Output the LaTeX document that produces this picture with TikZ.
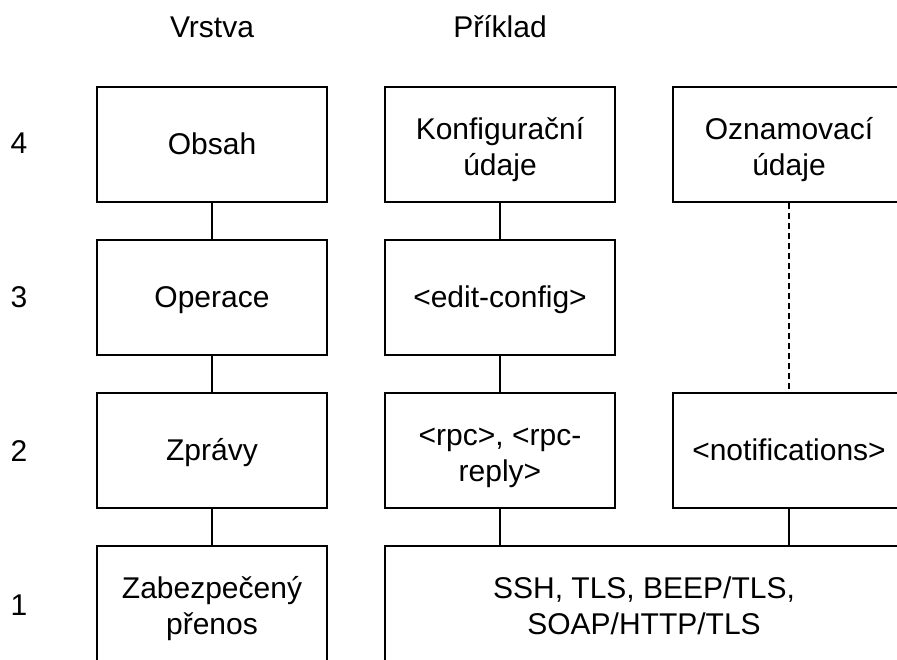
\documentclass[tikz,border=0pt]{standalone}
\usepackage{fontspec}
\setmainfont{Liberation Sans}
\begin{document}
\begin{tikzpicture}[x=0.5pt, y=-0.5pt,
  font=\fontsize{15}{18}\selectfont,
  layer/.style={draw, line width=1pt, minimum width=115pt, minimum height=57.5pt, align=center, inner sep=0pt, text height=12.5pt, text depth=2.5pt},
  twoline/.style={layer, text height=33pt, text depth=2.3pt},
  link/.style={line width=1pt},
  head/.style={anchor=base}]
  \useasboundingbox (0,0) rectangle (897,659);
  \clip (0,0) rectangle (897,659);

  % Layer numbers
  \begin{scope}[shift={(19,0)}]
    \node (n4) at (0,143.5) {4};
    \node (n3) at (0,297) {3};
    \node (n2) at (0,451) {2};
    \node (n1) at (0,605) {1};
  \end{scope}

  % Left column
  \begin{scope}[shift={(212,0)}]
    \node[head] (vrstva) at (0,37) {Vrstva};
    \node[layer] (obsah) at (0,144.5) {Obsah};
    \node[layer] (operace) at (0,297.5) {Operace};
    \node[layer] (zpravy) at (0,450.5) {Zprávy};
    \node[twoline] (prenos) at (0,603.5) {Zabezpečený\\přenos};
  \end{scope}

  % Middle column
  \begin{scope}[shift={(500,0)}]
    \node[head] (priklad) at (0,37) {Příklad};
    \node[twoline] (konfig) at (0,144.5) {Konfigurační\\údaje};
    \node[layer] (edit) at (0,297.5) {<edit-config>};
    \node[twoline] (rpc) at (0,450.5) {<rpc>, <rpc-\\reply>};
  \end{scope}

  % Right column
  \begin{scope}[shift={(789,0)}]
    \node[twoline, minimum width=116pt] (oznam) at (0,144.5) {Oznamovací\\údaje};
    \node[layer, minimum width=116pt] (notif) at (0,450.5) {<notifications>};
  \end{scope}

  % Transport
  \node[twoline, minimum width=259pt] (transport) at (644,603.5) {SSH, TLS, BEEP/TLS,\\SOAP/HTTP/TLS};

  \draw[link] (obsah) -- (operace);
  \draw[link] (operace) -- (zpravy);
  \draw[link] (zpravy) -- (prenos);
  \draw[link] (konfig) -- (edit);
  \draw[link] (edit) -- (rpc);
  \draw[link] (rpc) -- (rpc |- transport.north);
  \draw[link, dash pattern=on 3pt off 2pt] (oznam) -- (notif);
  \draw[link] (notif) -- (notif |- transport.north);
\end{tikzpicture}
\end{document}
